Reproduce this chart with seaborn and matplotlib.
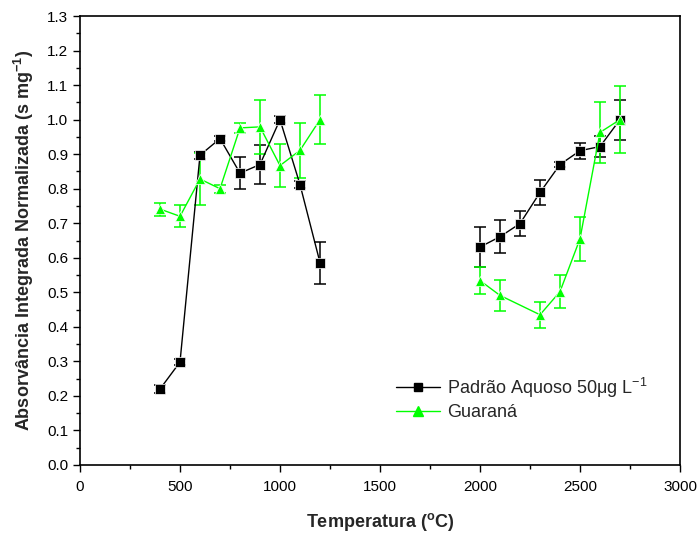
import matplotlib
matplotlib.use("Agg")
import matplotlib.pyplot as plt
import seaborn as sns
import pandas as pd
import numpy as np
from matplotlib.ticker import MultipleLocator
from matplotlib.lines import Line2D

sns.set_theme(style="ticks")
plt.rcParams['font.family'] = ['Liberation Sans', 'DejaVu Sans']
plt.rcParams['mathtext.default'] = 'regular'

# Padrão Aquoso (black squares)
pad_t1 = [400, 500, 600, 700, 800, 900, 1000, 1100, 1200]
pad_y1 = [0.22, 0.298, 0.897, 0.945, 0.845, 0.870, 1.0, 0.812, 0.586]
pad_e1 = [0.012, 0.008, 0.01, 0.008, 0.046, 0.057, 0.01, 0.01, 0.061]
pad_t2 = [2000, 2100, 2200, 2300, 2400, 2500, 2600, 2700]
pad_y2 = [0.631, 0.661, 0.699, 0.789, 0.87, 0.91, 0.922, 1.0]
pad_e2 = [0.058, 0.047, 0.037, 0.036, 0.008, 0.023, 0.031, 0.058]

# Guaraná (green triangles)
gua_t1 = [400, 500, 600, 700, 800, 900, 1000, 1100, 1200]
gua_y1 = [0.741, 0.72, 0.828, 0.80, 0.976, 0.979, 0.867, 0.911, 1.0]
gua_e1 = [0.019, 0.032, 0.074, 0.012, 0.015, 0.078, 0.063, 0.079, 0.07]
gua_t2 = [2000, 2100, 2300, 2400, 2500, 2600, 2700]
gua_y2 = [0.534, 0.491, 0.435, 0.502, 0.655, 0.963, 1.0]
gua_e2 = [0.04, 0.046, 0.037, 0.048, 0.064, 0.089, 0.097]

pad_label = 'Padrão Aquoso 50μg L$^{-1}$'
gua_label = 'Guaraná'
GREEN = '#00ff00'

rows = []
for t, y, e in zip(pad_t1, pad_y1, pad_e1):
    rows.append((pad_label, 'a', t, y, e))
for t, y, e in zip(pad_t2, pad_y2, pad_e2):
    rows.append((pad_label, 'b', t, y, e))
for t, y, e in zip(gua_t1, gua_y1, gua_e1):
    rows.append((gua_label, 'a', t, y, e))
for t, y, e in zip(gua_t2, gua_y2, gua_e2):
    rows.append((gua_label, 'b', t, y, e))
df = pd.DataFrame(rows, columns=['serie', 'seg', 'temp', 'val', 'err'])

fig = plt.figure(figsize=(7, 5.35), dpi=100)
ax = fig.add_axes([80/700, 70/535, 600/700, 449/535])

palette = {pad_label: 'black', gua_label: GREEN}
markers = {pad_label: 's', gua_label: '^'}

# error bars
for name, g in df.groupby('serie', sort=False):
    ax.errorbar(g['temp'], g['val'], yerr=g['err'], fmt='none',
                ecolor=palette[name], elinewidth=1.1, capsize=4, capthick=1.1, zorder=2)

sns.lineplot(data=df, x='temp', y='val', hue='serie', units='seg', estimator=None,
             style='serie', markers=markers, dashes=False, palette=palette,
             markersize=7.5, markeredgewidth=0.5, linewidth=1.0, ax=ax, legend=False,
             sort=False, zorder=3)

h1 = Line2D([], [], color='black', marker='s', markersize=6, linewidth=1.0)
h2 = Line2D([], [], color=GREEN, marker='^', markersize=7, linewidth=1.0, markeredgecolor=GREEN)
ax.legend([h1, h2], [pad_label, gua_label], loc='upper left', bbox_to_anchor=(0.515, 0.215),
          frameon=False, fontsize=13, handlelength=2.4, handletextpad=0.4,
          borderaxespad=0, labelspacing=0.25)

ax.set_xlim(0, 3000)
ax.set_ylim(0, 1.3)
ax.xaxis.set_major_locator(MultipleLocator(500))
ax.xaxis.set_minor_locator(MultipleLocator(250))
ax.yaxis.set_major_locator(MultipleLocator(0.1))
ax.yaxis.set_minor_locator(MultipleLocator(0.05))
ax.yaxis.set_major_formatter(matplotlib.ticker.FormatStrFormatter('%.1f'))
ax.tick_params(axis='both', which='major', direction='out', length=5, width=1,
               labelsize=11, color='black', labelcolor='black')
ax.tick_params(axis='x', which='major', pad=6)
ax.tick_params(axis='both', which='minor', direction='out', length=3, width=1, color='black')
for s in ax.spines.values():
    s.set_color('black')
    s.set_linewidth(1.2)

ax.set_xlabel('Temperatura ($^{o}$C)', fontsize=13, fontweight='bold', labelpad=12)
ax.set_ylabel('Absorvância Integrada Normalizada (s mg$^{-1}$)', fontsize=13,
              fontweight='bold', labelpad=8)

fig.savefig('out.png', dpi=100)
